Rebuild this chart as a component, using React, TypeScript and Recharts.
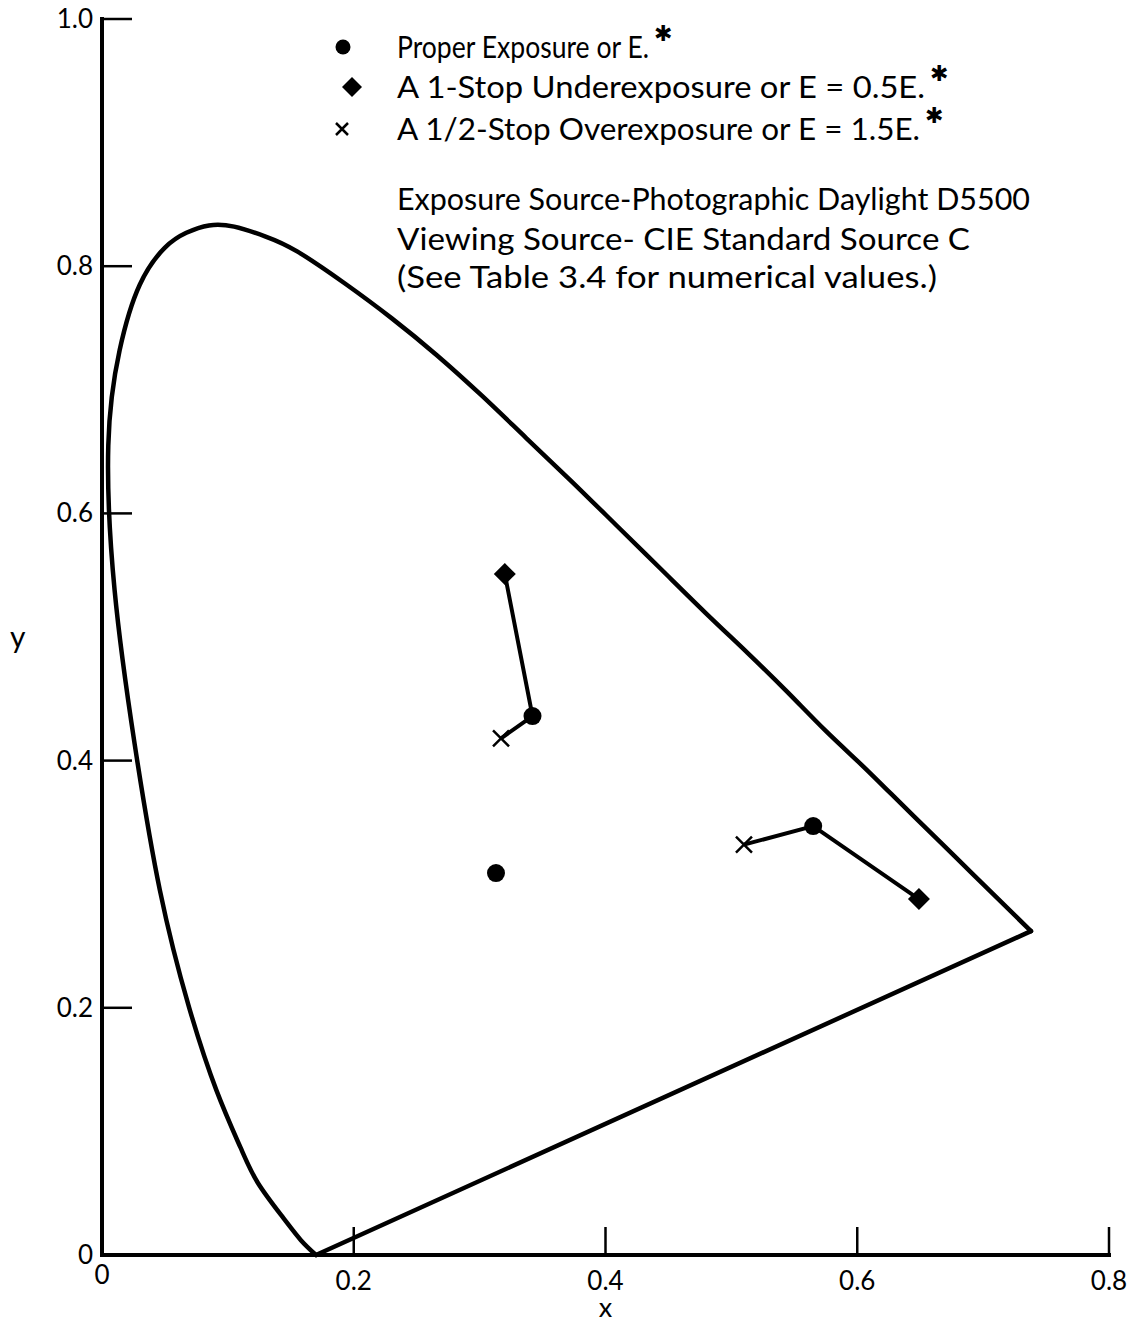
import { ScatterChart, Scatter, XAxis, YAxis } from 'recharts';

const FONT = 'Lato, "DejaVu Sans", sans-serif';
const INK = '#000';

// spectrum locus, from the violet end on the x axis round the blue and green sides to the red end
const locus = [
  { x: 0.170, y: 0.000 },
  { x: 0.158, y: 0.012 },
  { x: 0.144, y: 0.030 },
  { x: 0.124, y: 0.058 },
  { x: 0.110, y: 0.087 },
  { x: 0.091, y: 0.133 },
  { x: 0.069, y: 0.201 },
  { x: 0.046, y: 0.295 },
  { x: 0.026, y: 0.413 },
  { x: 0.010, y: 0.538 },
  { x: 0.005, y: 0.655 },
  { x: 0.014, y: 0.732 },
  { x: 0.030, y: 0.785 },
  { x: 0.050, y: 0.815 },
  { x: 0.067, y: 0.827 },
  { x: 0.085, y: 0.833 },
  { x: 0.105, y: 0.832 },
  { x: 0.130, y: 0.824 },
  { x: 0.155, y: 0.812 },
  { x: 0.193, y: 0.786 },
  { x: 0.230, y: 0.758 },
  { x: 0.266, y: 0.728 },
  { x: 0.302, y: 0.695 },
  { x: 0.337, y: 0.661 },
  { x: 0.373, y: 0.626 },
  { x: 0.409, y: 0.590 },
  { x: 0.444, y: 0.555 },
  { x: 0.479, y: 0.520 },
  { x: 0.513, y: 0.487 },
  { x: 0.545, y: 0.455 },
  { x: 0.575, y: 0.424 },
  { x: 0.603, y: 0.397 },
  { x: 0.627, y: 0.373 },
  { x: 0.666, y: 0.334 },
  { x: 0.692, y: 0.308 },
  { x: 0.738, y: 0.262 },
];

// straight purple line closing the locus
const purpleLine = [locus[locus.length - 1], locus[0]];

const xTicks = [0, 0.2, 0.4, 0.6, 0.8];
const yTicks = [0, 0.2, 0.4, 0.6, 0.8, 1.0];

// chromaticities of the two test samples
const proper = [{ x: 0.342, y: 0.436 }, { x: 0.565, y: 0.347 }];
const under = [{ x: 0.320, y: 0.551 }, { x: 0.649, y: 0.288 }];
const over = [{ x: 0.317, y: 0.418 }, { x: 0.510, y: 0.332 }];
const neutral = [{ x: 0.313, y: 0.309 }];

const legendLabels = [
  'Proper Exposure or E.',
  'A 1-Stop Underexposure or E = 0.5E.',
  'A 1/2-Stop Overexposure or E = 1.5E.',
];
const legendWidths = [252, 528, 523];
const notes = [
  'Exposure Source-Photographic Daylight D5500',
  'Viewing Source- CIE Standard Source C',
  '(See Table 3.4 for numerical values.)',
];
const noteWidths = [633, 573, 540];

// under -> proper -> over for the first sample, over -> proper -> under for the second
const traces = [
  [under[0], proper[0], over[0]],
  [over[1], proper[1], under[1]],
];

const noDot = () => <g />;

const Dot = ({ cx, cy, r = 9 }: any) => <circle cx={cx} cy={cy} r={r} fill={INK} />;
const Diamond = ({ cx, cy, s = 11 }: any) => (
  <polygon points={`${cx},${cy - s} ${cx + s},${cy} ${cx},${cy + s} ${cx - s},${cy}`} fill={INK} />
);
const Cross = ({ cx, cy, s = 8 }: any) => (
  <path d={`M${cx - s},${cy - s}L${cx + s},${cy + s}M${cx - s},${cy + s}L${cx + s},${cy - s}`}
    stroke={INK} strokeWidth={2.5} />
);

const XTick = ({ x, y, payload }: any) => {
  const v = payload.value;
  return (
    <g>
      {v !== 0 && <line x1={x} x2={x} y1={y} y2={y - 28} stroke={INK} strokeWidth={2.5} />}
      <text x={x} y={y + (v === 0 ? 29 : 35)} textAnchor="middle" fontSize={26} fontFamily={FONT} fill={INK}>
        {v === 0 ? '0' : v.toFixed(1)}
      </text>
    </g>
  );
};

const YTick = ({ x, y, payload }: any) => {
  const v = payload.value;
  return (
    <g>
      {v !== 0 && <line x1={x} x2={x + 30} y1={y} y2={y} stroke={INK} strokeWidth={2.5} />}
      <text x={x - 9} y={y + 9} textAnchor="end" fontSize={26} fontFamily={FONT} fill={INK}>
        {v === 0 ? '0' : v.toFixed(1)}
      </text>
    </g>
  );
};

const XLabel = ({ viewBox }: any) => (
  <text x={viewBox.x + viewBox.width / 2} y={viewBox.y + 62} textAnchor="middle"
    fontSize={27} fontFamily={FONT} fill={INK}>x</text>
);

const Asterisk = ({ x, y }: any) => (
  <text x={x} y={y} fontSize={22} fontWeight="bold" fontFamily='"DejaVu Sans", sans-serif' fill={INK}>✱</text>
);

function Key() {
  const markers = [
    <Dot cx={343} cy={47} r={7.5} />,
    <Diamond cx={352} cy={87} s={10} />,
    <Cross cx={342} cy={129} s={6} />,
  ];
  const rows = [58, 98, 140];
  const noteRows = [210, 250, 288];
  return (
    <svg width={1133} height={310} style={{ position: 'absolute', left: 0, top: 0 }}>
      {legendLabels.map((t, i) => (
        <g key={t}>
          {markers[i]}
          <text x={397} y={rows[i]} fontSize={30} fontFamily={FONT} fill={INK}
            textLength={legendWidths[i]} lengthAdjust="spacingAndGlyphs">{t}</text>
          <Asterisk x={397 + legendWidths[i] + 5} y={rows[i] - 17} />
        </g>
      ))}
      {notes.map((t, i) => (
        <text key={t} x={397} y={noteRows[i]} fontSize={30} fontFamily={FONT} fill={INK}
          textLength={noteWidths[i]} lengthAdjust="spacingAndGlyphs">{t}</text>
      ))}
    </svg>
  );
}

export default function App() {
  const axisStroke = { stroke: INK, strokeWidth: 4, strokeLinecap: 'square' as const };
  const locusStroke = { stroke: INK, strokeWidth: 4.5, strokeLinecap: 'round' as const, strokeLinejoin: 'round' as const };
  return (
    <div style={{ position: 'absolute', left: 0, top: 0, width: 1133, height: 1322, background: '#fff' }}>
      <ScatterChart width={1133} height={1322} margin={{ top: 19, right: 24, bottom: 0, left: 0 }}>
        <XAxis type="number" dataKey="x" domain={[0, 0.8]} ticks={xTicks} interval={0} height={67}
          axisLine={axisStroke} tickLine={false} tickSize={0} tickMargin={0} tick={<XTick />}
          label={<XLabel />} />
        <YAxis type="number" dataKey="y" domain={[0, 1]} ticks={yTicks} interval={0} width={102}
          axisLine={axisStroke} tickLine={false} tickSize={0} tickMargin={0} tick={<YTick />}
          label={{ value: 'y', position: 'insideLeft', offset: 10, fontSize: 30, fill: INK, fontFamily: FONT }} />
        <Scatter data={locus} line={locusStroke} lineJointType="natural" shape={noDot} isAnimationActive={false} />
        <Scatter data={purpleLine} line={locusStroke} shape={noDot} isAnimationActive={false} />
        {traces.map((t, i) => (
          <Scatter key={i} data={t} line={{ stroke: INK, strokeWidth: 4 }} shape={noDot} isAnimationActive={false} />
        ))}
        <Scatter data={proper} shape={<Dot />} isAnimationActive={false} />
        <Scatter data={neutral} shape={<Dot />} isAnimationActive={false} />
        <Scatter data={under} shape={<Diamond />} isAnimationActive={false} />
        <Scatter data={over} shape={<Cross />} isAnimationActive={false} />
      </ScatterChart>
      <Key />
    </div>
  );
}
